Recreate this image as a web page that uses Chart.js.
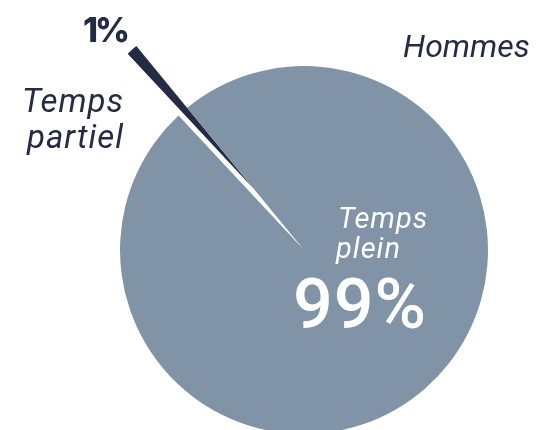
<!DOCTYPE html>
<html lang="fr">
<head>
<meta charset="utf-8">
<title>Hommes - temps de travail</title>
<script src="https://cdn.jsdelivr.net/npm/chart.js@4.4.1/dist/chart.umd.min.js"></script>
<style>
    html, body { margin: 0; padding: 0; background: #ffffff; overflow: hidden; }
    #wrap { position: relative; width: 537px; height: 430px; }
</style>
</head>
<body>
<div id="wrap"><canvas id="pieChart"></canvas></div>
<script>
// Données du graphique
const categories = ['Temps plein', 'Temps partiel'];
const parts = [99, 1];
const valueLabels = ['99%', '1%'];
const groupTitle = 'Hommes';

const GRAY = '#8093a7';
const NAVY = '#242b44';

// Détachement de la petite part (px) et léger décalage d'angle (rad)
const EXPLODE = 80;
const EXPLODE_TURN = 0.03;

// Plugin : déplace la part "Temps partiel" hors du centre
// (l'option offset de Chart.js amincit trop une part de 1%)
const explodePlugin = {
    id: 'explodeSlice',
    afterDatasetsUpdate(chart) {
        const arc = chart.getDatasetMeta(0).data[1];
        if (!arc) return;
        const mid = (arc.startAngle + arc.endAngle) / 2 + EXPLODE_TURN;
        arc.x += Math.cos(mid) * EXPLODE;
        arc.y += Math.sin(mid) * EXPLODE;
    }
};

// Plugin pour écrire les étiquettes autour / dans le camembert
const labelPlugin = {
    id: 'pieLabels',
    afterDraw(chart) {
        const arc = chart.getDatasetMeta(0).data[0];
        if (!arc) return;
        const cx = arc.x;
        const cy = arc.y;
        const ctx = chart.ctx;
        ctx.save();
        ctx.textBaseline = 'alphabetic';

        // Titre du groupe
        ctx.fillStyle = NAVY;
        ctx.textAlign = 'left';
        ctx.font = 'italic 400 32px Roboto';
        ctx.fillText(groupTitle, cx + 99, cy - 193);

        // Temps partiel (à gauche)
        const partiel = categories[1].split(' ');
        ctx.textAlign = 'right';
        ctx.font = 'italic 400 33px Roboto';
        ctx.letterSpacing = '1px';
        ctx.fillText(partiel[0], cx - 180, cy - 138);
        ctx.fillText(partiel[1], cx - 180, cy - 102);

        // 1%
        ctx.textAlign = 'left';
        ctx.font = '800 34px Inter';
        ctx.letterSpacing = '-3px';
        ctx.fillText(valueLabels[1], cx - 221, cy - 208);

        // Temps plein (dans la grande part)
        const plein = categories[0].split(' ');
        ctx.fillStyle = '#ffffff';
        ctx.font = 'italic 400 29px Roboto';
        ctx.letterSpacing = '1px';
        ctx.fillText(plein[0], cx + 34, cy - 22);
        ctx.fillText(plein[1], cx + 32, cy + 8);

        // 99%
        ctx.font = '500 70px Roboto';
        ctx.letterSpacing = '1px';
        ctx.fillText(valueLabels[0], cx - 11, cy + 78);

        ctx.restore();
    }
};

const ctx = document.getElementById('pieChart').getContext('2d');
new Chart(ctx, {
    type: 'pie',
    data: {
        labels: categories,
        datasets: [{
            data: parts,
            backgroundColor: [GRAY, NAVY],
            borderWidth: 0,
            radius: 184,
        }],
    },
    options: {
        responsive: true,
        maintainAspectRatio: false,
        animation: false,
        events: [],
        rotation: -39.4,
        layout: {
            padding: { left: 71, right: 0, top: 70, bottom: 0 },
        },
        plugins: {
            legend: { display: false },
            tooltip: { enabled: false },
        },
    },
    plugins: [explodePlugin, labelPlugin],
});
</script>
</body>
</html>
